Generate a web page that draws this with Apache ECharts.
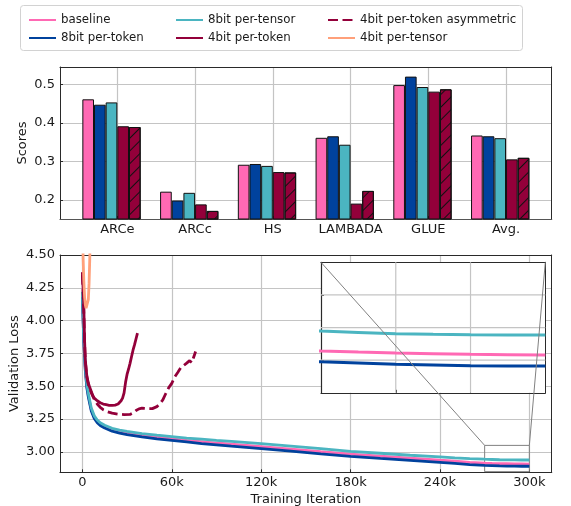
<!DOCTYPE html>
<html>
<head>
<meta charset="utf-8">
<script src="https://cdn.jsdelivr.net/npm/echarts@6/dist/echarts.min.js"></script>
<style>
  html, body { margin: 0; padding: 0; background: #fff; }
  #chart { width: 571px; height: 506px; }
</style>
</head>
<body>
<div id="chart"></div>
<script>
// ---- downstream benchmark scores ----
const benchmarks = ['ARCe', 'ARCc', 'HS', 'LAMBADA', 'GLUE', 'Avg.'];
const scoreBaseline  = [0.461, 0.221, 0.291, 0.361, 0.498, 0.367];
const score8Token    = [0.447, 0.198, 0.293, 0.365, 0.520, 0.365];
const score8Tensor   = [0.453, 0.218, 0.288, 0.343, 0.493, 0.360];
const score4Token    = [0.391, 0.188, 0.272, 0.190, 0.481, 0.305];
const score4Asym     = [0.389, 0.171, 0.271, 0.223, 0.487, 0.309];
const score4Tensor   = [];   // diverged run, no evaluation
const scoreTicks     = [0.2, 0.3, 0.4, 0.5];

// ---- validation loss curves ----
const stepsLong = [0, 1000, 2000, 3000, 4000, 5000, 6000, 8000, 10000, 12000, 15000, 20000, 25000, 30000,
  40000, 50000, 60000, 70000, 80000, 90000, 100000, 120000, 140000, 160000, 180000, 200000, 220000,
  240000, 250000, 260000, 270000, 275000, 280000, 285000, 290000, 295000, 300000];
const lossBaseline = [4.2, 3.84, 3.63, 3.5, 3.43, 3.375, 3.322, 3.265, 3.233, 3.212, 3.193, 3.17, 3.155, 3.144,
  3.126, 3.112, 3.1, 3.088, 3.078, 3.068, 3.059, 3.04, 3.021, 3.002, 2.984, 2.968, 2.952,
  2.937, 2.93, 2.921, 2.914, 2.9124, 2.911, 2.91, 2.909, 2.9085, 2.908];
const loss8Token = [4.18, 3.83, 3.62, 3.49, 3.42, 3.365, 3.312, 3.255, 3.223, 3.202, 3.182, 3.158, 3.143, 3.132,
  3.115, 3.1, 3.088, 3.076, 3.064, 3.054, 3.044, 3.025, 3.006, 2.986, 2.967, 2.951, 2.936,
  2.921, 2.913, 2.904, 2.8976, 2.8956, 2.8936, 2.8925, 2.8914, 2.891, 2.891];
const loss8Tensor = [4.22, 3.86, 3.65, 3.52, 3.445, 3.39, 3.335, 3.275, 3.243, 3.222, 3.203, 3.18, 3.166, 3.156,
  3.14, 3.128, 3.117, 3.106, 3.097, 3.088, 3.08, 3.063, 3.045, 3.025, 3.005, 2.99, 2.975,
  2.962, 2.955, 2.949, 2.9446, 2.9426, 2.9405, 2.9396, 2.939, 2.9387, 2.9385];

const steps4Token = [0, 500, 1000, 1500, 2000, 3000, 4000, 5000, 6000, 7000, 8000, 10000, 12000, 14000, 16000,
  18000, 20000, 22000, 24000, 26000, 27000, 28000, 29000, 30000, 31000, 32000, 33000, 34000, 35000, 36000, 37000];
const loss4Token = [4.37, 4.25, 4.1, 3.85, 3.7, 3.58, 3.525, 3.49, 3.46, 3.43, 3.41, 3.39, 3.375, 3.365, 3.36,
  3.355, 3.355, 3.357, 3.365, 3.39, 3.41, 3.45, 3.53, 3.59, 3.63, 3.675, 3.725, 3.775, 3.815, 3.86, 3.905];

const steps4Asym = [0, 500, 1000, 1500, 2000, 3000, 4000, 5000, 6000, 8000, 10000, 12000, 14000, 17000, 20000,
  24000, 28000, 32000, 34000, 36000, 38000, 40000, 44000, 47000, 50000, 52000, 54000, 56000, 58000, 60000,
  62000, 64000, 66000, 68000, 70000, 72000, 73000, 73500, 74000, 75000, 76000];
const loss4Asym = [4.35, 4.22, 4.05, 3.83, 3.69, 3.57, 3.515, 3.48, 3.45, 3.4, 3.365, 3.34, 3.322, 3.305, 3.295,
  3.288, 3.284, 3.286, 3.297, 3.315, 3.328, 3.333, 3.33, 3.33, 3.345, 3.367, 3.396, 3.445, 3.49, 3.522,
  3.572, 3.605, 3.64, 3.658, 3.676, 3.695, 3.70, 3.68, 3.70, 3.73, 3.765];

const steps4Tensor = [0, 500, 1000, 1500, 2000, 2500, 3000, 3500, 4000, 4500, 5000, 5500, 6000];
const loss4Tensor  = [5.0, 4.48, 4.3, 4.18, 4.12, 4.095, 4.088, 4.1, 4.16, 4.28, 4.48, 4.75, 5.1];

const lossTicks  = [3.0, 3.25, 3.5, 3.75, 4.0, 4.25, 4.5];
const iterTicks  = [0, 60000, 120000, 180000, 240000, 300000];
const insetIter  = [270000, 300000];
const insetLoss  = [2.85, 3.05];
const insetXTicks = [270000, 280000, 290000, 300000];
const insetYTicks = [2.85, 2.9, 2.95, 3.0, 3.05];

// ---- look ----
const names  = ['baseline', '8bit per-token', '8bit per-tensor', '4bit per-token', '4bit per-token asymmetric', '4bit per-tensor'];
const colors = ['#ff69b4', '#00429d', '#4bb5c1', '#93003a', '#93003a', '#ffa07a'];
const FONT = 'DejaVu Sans';
const INK = '#1a1a1a';
const GRIDC = '#c4c4c4';
const FRAME = '#2a2a2a';
const INSET_LAYER = 1;   // the inset lives on its own canvas layer above the main panels

const zip = (xs, ys) => xs.map((x, i) => [x, ys[i]]);
const kFmt = v => (v === 0 ? '0' : (v / 1000) + 'k');
const inner = (ticks) => ticks.slice(1, -1);

function frameAxis(pos, gridIndex, zlevel) {
  return {
    type: 'value', gridIndex, position: pos, min: 0, max: 1, zlevel: zlevel || 0,
    axisLine: { show: true, onZero: false, lineStyle: { color: FRAME, width: 1 } },
    axisLabel: { show: false }, axisTick: { show: false }, splitLine: { show: false }
  };
}

const gridLine = { show: true, lineStyle: { color: GRIDC, width: 1.2 } };
const labelStyle = { color: INK, fontSize: 13, fontFamily: FONT };
const nameStyle = { color: INK, fontSize: 13, fontFamily: FONT };

const option = {
  animation: false,
  backgroundColor: '#fff',
  textStyle: { fontFamily: FONT },
  grid: [
    { left: 60, top: 67, width: 491.7, height: 152, outerBoundsMode: 'none', containLabel: false },
    { left: 60, top: 255, width: 491.7, height: 217.3, outerBoundsMode: 'none', containLabel: false },
    { left: 321, top: 262.3, width: 224.3, height: 130.5, outerBoundsMode: 'none', containLabel: false,
      show: false, zlevel: INSET_LAYER }
  ],
  xAxis: [
    { // benchmark positions
      type: 'value', gridIndex: 0, min: -0.7375, max: 5.5875,
      axisLine: { show: true, onZero: false, lineStyle: { color: '#555', width: 1.2 } },
      axisTick: { show: true, inside: true, length: 3, customValues: benchmarks.map((b, i) => i), lineStyle: { color: FRAME } },
      axisLabel: { ...labelStyle, margin: 4, customValues: benchmarks.map((b, i) => i), formatter: v => benchmarks[Math.round(v)] },
      splitLine: gridLine
    },
    frameAxis('top', 0),
    { // training iteration
      type: 'value', gridIndex: 1, min: -15000, max: 315000,
      name: 'Training Iteration', nameLocation: 'middle', nameGap: 21, nameMoveOverlap: false,
      nameTextStyle: nameStyle,
      axisLine: { show: true, onZero: false, lineStyle: { color: FRAME, width: 1.2 } },
      axisTick: { show: true, inside: true, length: 3, customValues: iterTicks, lineStyle: { color: FRAME } },
      axisLabel: { ...labelStyle, margin: 4, customValues: iterTicks, formatter: kFmt },
      splitLine: gridLine
    },
    frameAxis('top', 1),
    { // inset iteration
      type: 'value', gridIndex: 2, min: insetIter[0], max: insetIter[1], zlevel: INSET_LAYER,
      axisLine: { show: true, onZero: false, lineStyle: { color: FRAME, width: 1.2 } },
      axisTick: { show: true, inside: true, length: 3, customValues: insetXTicks, lineStyle: { color: FRAME } },
      axisLabel: { show: false },
      splitLine: { show: false }
    },
    frameAxis('top', 2, INSET_LAYER)
  ],
  yAxis: [
    { // scores
      type: 'value', gridIndex: 0, min: 0.15, max: 0.545,
      name: 'Scores', nameLocation: 'middle', nameGap: 30.5, nameMoveOverlap: false,
      nameTextStyle: nameStyle,
      axisLine: { show: true, onZero: false, lineStyle: { color: FRAME, width: 1 } },
      axisTick: { show: true, inside: true, length: 3, customValues: scoreTicks, lineStyle: { color: FRAME } },
      axisLabel: { ...labelStyle, margin: 5, customValues: scoreTicks, formatter: v => v.toFixed(1) },
      splitLine: gridLine
    },
    frameAxis('right', 0),
    { // validation loss
      type: 'value', gridIndex: 1, min: 2.845, max: 4.5,
      name: 'Validation Loss', nameLocation: 'middle', nameGap: 38.5, nameMoveOverlap: false,
      nameTextStyle: nameStyle,
      axisLine: { show: true, onZero: false, lineStyle: { color: FRAME, width: 1 } },
      axisTick: { show: true, inside: true, length: 3, customValues: lossTicks, lineStyle: { color: FRAME } },
      axisLabel: { ...labelStyle, margin: 5, customValues: lossTicks, formatter: v => v.toFixed(2) },
      splitLine: gridLine
    },
    frameAxis('right', 1),
    { // inset loss
      type: 'value', gridIndex: 2, min: insetLoss[0], max: insetLoss[1], zlevel: INSET_LAYER,
      axisLine: { show: true, onZero: false, lineStyle: { color: FRAME, width: 1.2 } },
      axisTick: { show: true, inside: true, length: 3, customValues: insetYTicks, lineStyle: { color: FRAME } },
      axisLabel: { show: false },
      splitLine: { show: false }
    },
    frameAxis('right', 2, INSET_LAYER)
  ],
  legend: [
    { data: [names[0], names[1]], left: 23, top: 9 },
    { data: [names[2], names[3]], left: 170, top: 9 },
    { data: [names[4], names[5]], left: 322, top: 9 }
  ].map(l => Object.assign(l, {
    orient: 'vertical', itemWidth: 27, itemHeight: 14, itemGap: 6, z: 5,
    selectedMode: false,
    itemStyle: { opacity: 0 },
    textStyle: { color: INK, fontSize: 11.8, fontFamily: FONT }
  })),
  graphic: [
    { id: 'legendBox', type: 'rect', left: 20, top: 5, z: 1, silent: true,
      shape: { width: 502, height: 45, r: 3 },
      style: { fill: '#fff', stroke: '#d2d2d2', lineWidth: 1 } }
  ],
  series: []
};

// validation loss curves (main panel)
const curves = [
  [stepsLong, lossBaseline], [stepsLong, loss8Token], [stepsLong, loss8Tensor],
  [steps4Token, loss4Token], [steps4Asym, loss4Asym], [steps4Tensor, loss4Tensor]
];
curves.forEach(([xs, ys], i) => {
  const s = {
    type: 'line', name: names[i], xAxisIndex: 2, yAxisIndex: 2,
    data: zip(xs, ys), symbol: 'none', clip: true, z: 2,
    itemStyle: { color: colors[i] },
    lineStyle: { color: colors[i], width: 2.8, type: i === 4 ? [10, 4.5] : 'solid', cap: 'butt' }
  };
  if (i === 0) {
    s.markArea = {
      silent: true,
      itemStyle: { color: 'rgba(0,0,0,0)', borderColor: '#808080', borderWidth: 1 },
      data: [[{ xAxis: insetIter[0], yAxis: insetLoss[0] }, { xAxis: insetIter[1], yAxis: insetLoss[1] }]]
    };
  }
  option.series.push(s);
});

// zoomed-in tail (inset)
[[lossBaseline, 0], [loss8Token, 1], [loss8Tensor, 2]].forEach(([ys, i]) => {
  option.series.push({
    type: 'line', name: names[i], xAxisIndex: 4, yAxisIndex: 4, zlevel: INSET_LAYER,
    data: zip(stepsLong, ys), symbol: 'none', clip: true, z: 3,
    lineStyle: { color: colors[i], width: 3 }, itemStyle: { color: colors[i] }
  });
});

// benchmark bars
const scoreSets = [scoreBaseline, score8Token, score8Tensor, score4Token, score4Asym, score4Tensor];
scoreSets.forEach((vals, i) => {
  const itemStyle = { color: colors[i], borderColor: '#111', borderWidth: 1 };
  if (i === 4) {
    itemStyle.decal = {
      symbol: 'rect', symbolSize: 1, color: '#111',
      dashArrayX: [1, 0], dashArrayY: [1, 7.5], rotation: -Math.PI / 4
    };
  }
  option.series.push({
    type: 'bar', name: names[i], xAxisIndex: 0, yAxisIndex: 0,
    data: vals.map((v, j) => [j, v]),
    barWidth: '15%', barGap: '0%', clip: true, itemStyle
  });
});

const chart = echarts.init(document.getElementById('chart'), null, { renderer: 'canvas' });
chart.setOption(option);

// inset decorations, placed from the inset's own axis extents:
// a white backdrop on the base layer (hides the main grid lines),
// its grid lines (thin filled strips), and connectors to the zoom box in the main panel
const toInset = p => chart.convertToPixel({ xAxisIndex: 4, yAxisIndex: 4 }, p);
const toMain = p => chart.convertToPixel({ xAxisIndex: 2, yAxisIndex: 2 }, p);
const insetTL = toInset([insetIter[0], insetLoss[1]]);
const insetBR = toInset([insetIter[1], insetLoss[0]]);
const insetTR = toInset([insetIter[1], insetLoss[1]]);
const boxTL = toMain([insetIter[0], insetLoss[1]]);
const boxTR = toMain([insetIter[1], insetLoss[1]]);
const insetW = insetBR[0] - insetTL[0];
const insetH = insetBR[1] - insetTL[1];
const pxOfIter = v => insetTL[0] + (v - insetIter[0]) / (insetIter[1] - insetIter[0]) * insetW;
const pxOfLoss = v => insetBR[1] - (v - insetLoss[0]) / (insetLoss[1] - insetLoss[0]) * insetH;
const GW = 1.2;
const strip = (id, x, y, w, h) => ({
  id, type: 'rect', zlevel: INSET_LAYER, z: 1, silent: true,
  shape: { x, y, width: w, height: h }, style: { fill: GRIDC }
});
const segment = (id, a, b) => ({
  id, type: 'line', zlevel: INSET_LAYER, z: 20, silent: true,
  shape: { x1: a[0], y1: a[1], x2: b[0], y2: b[1] },
  style: { stroke: '#808080', lineWidth: 1 }
});
const insetGrid = [];
inner(insetXTicks).forEach((v, k) => {
  insetGrid.push(strip('gx' + k, pxOfIter(v) - GW / 2, insetTL[1], GW, insetH));
});
inner(insetYTicks).forEach((v, k) => {
  insetGrid.push(strip('gy' + k, insetTL[0], pxOfLoss(v) - GW / 2, insetW, GW));
});
chart.setOption({
  graphic: [
    { id: 'insetBg', type: 'rect', zlevel: 0, z: 10, silent: true,
      shape: { x: insetTL[0], y: insetTL[1], width: insetW, height: insetH },
      style: { fill: '#fff' } },
    ...insetGrid,
    segment('connA', insetTL, boxTL),
    segment('connB', insetTR, boxTR)
  ]
});
</script>
</body>
</html>
